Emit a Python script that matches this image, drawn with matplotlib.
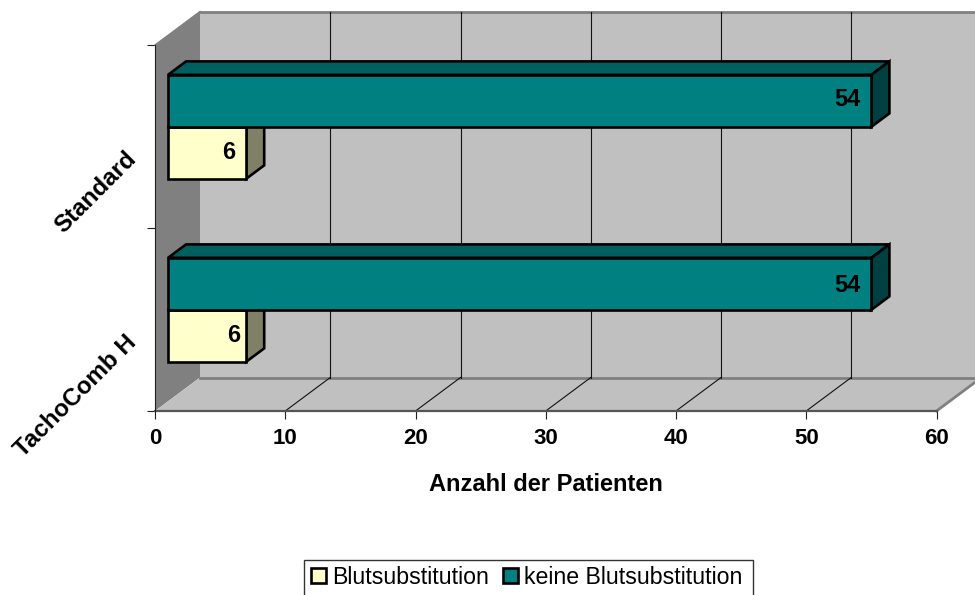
import matplotlib
matplotlib.use("Agg")
import matplotlib.pyplot as plt
from matplotlib.patches import Polygon, Patch, Rectangle

plt.rcParams['font.family'] = ['Liberation Sans', 'DejaVu Sans']

categories = ["TachoComb H", "Standard"]
blut = [6, 6]
keine = [54, 54]
series_names = ["Blutsubstitution", "keine Blutsubstitution"]
x_ticks = [0, 10, 20, 30, 40, 50, 60]

W, H = 975, 595
# front plane of the 3d box in pixels
LEFT, RIGHT, TOP, BOTTOM = 155, 936.5, 45, 411
# how far the back wall is shifted, in data units
DX = 45 / ((RIGHT - LEFT) / 60)
DY = 33.5 / ((BOTTOM - TOP) / 2)
BAR_H = 0.284
D0, D1 = 0.29, 0.69

fig = plt.figure(figsize=(W / 100, H / 100), dpi=100)
ax = fig.add_axes([LEFT / W, 1 - BOTTOM / H, (RIGHT - LEFT) / W, (BOTTOM - TOP) / H])
ax.set_xlim(0, 60)
ax.set_ylim(0, 2)
for s in ax.spines.values():
    s.set_visible(False)
ax.patch.set_visible(False)


def p(x, y, d):
    # oblique projection, d=0 is the front plane, d=1 the back wall
    return (x + d * DX, y + d * DY)


def poly(pts, fc, ec="none", lw=0, z=1):
    ax.add_patch(Polygon(pts, closed=True, fc=fc, ec=ec, lw=lw, zorder=z,
                         clip_on=False, joinstyle="miter"))


# walls and floor
poly([p(0, 0, 0), p(0, 2, 0), p(0, 2, 1), p(0, 0, 1)], "#808080", z=1)
poly([p(0, 0, 1), p(0, 2, 1), p(60, 2, 1), p(60, 0, 1)], "#C0C0C0", z=1)
poly([p(0, 0, 0), p(0, 0, 1), p(60, 0, 1), p(60, 0, 0)], "#C0C0C0", z=1)
ax.plot(*zip(p(0, 2, 1), p(60, 2, 1)), color="#808080", lw=2, zorder=2, clip_on=False)
ax.plot(*zip(p(0, 0, 1), p(60, 0, 1)), color="#808080", lw=2, zorder=2, clip_on=False)
ax.plot(*zip(p(60, 0, 0), p(60, 0, 1)), color="#808080", lw=2, zorder=2, clip_on=False)
ax.plot(*zip(p(0, 0, 0), p(60, 0, 0)), color="#555555", lw=1.6, zorder=3, clip_on=False)
ax.plot(*zip(p(0, 0, 0), p(0, 2, 0)), color="#202020", lw=0.8, zorder=3, clip_on=False)
ax.plot(*zip(p(0, 2, 0), p(0, 2, 1)), color="#808080", lw=1, zorder=2, clip_on=False)

# gridlines on back wall and floor
for t in x_ticks[1:-1]:
    ax.plot(*zip(p(t, 0, 1), p(t, 2, 1)), color="#111111", lw=0.8, zorder=2.5, clip_on=False)
    ax.plot(*zip(p(t, 0, 0), p(t, 0, 1)), color="#111111", lw=0.8, zorder=2.5, clip_on=False)


def bar3d(val, y0, y1, front, top, side, z):
    e = dict(ec="black", lw=1.9, z=z)
    poly([p(0, y1, D0), p(0, y1, D1), p(val, y1, D1), p(val, y1, D0)], top, **e)
    poly([p(val, y0, D0), p(val, y1, D0), p(val, y1, D1), p(val, y0, D1)], side, **e)
    poly([p(0, y0, D0), p(0, y1, D0), p(val, y1, D0), p(val, y0, D0)], front, **e)


for i in range(len(categories)):
    mid = i + 0.5
    bar3d(blut[i], mid - BAR_H, mid, "#FFFFCC", "#CCCCA3", "#808066", 5 + i)
    bar3d(keine[i], mid, mid + BAR_H, "#008080", "#006060", "#004040", 5.5 + i)

# value labels, the chart places these a bit unevenly
for i, dx in enumerate([-13, -18]):
    x, y = p(blut[i], i + 0.5 - BAR_H / 2, D0)
    ax.annotate(str(blut[i]), (x, y), xytext=(dx, 0),
                textcoords="offset pixels", ha="center", va="center",
                fontsize=17, fontweight="bold", zorder=9)
for i, dy in enumerate([-2, 1]):
    x, y = p(keine[i], i + 0.5 + BAR_H / 2, D0)
    ax.annotate(str(keine[i]), (x, y), xytext=(-24, dy),
                textcoords="offset pixels", ha="center", va="center",
                fontsize=17, fontweight="bold", zorder=9)

# axes ticks and labels
ax.set_xticks(x_ticks)
ax.set_xticklabels([str(t) for t in x_ticks], fontsize=16, fontweight="bold")
ax.tick_params(axis="x", length=6, width=0.8, pad=6.5, color="#202020")
ax.set_yticks([0, 1, 2])
ax.set_yticklabels([])
ax.tick_params(axis="y", length=6, width=0.8, color="#202020")
ax.set_xlabel("Anzahl der Patienten", fontsize=17, fontweight="bold", labelpad=17)

for i, cat in enumerate(categories):
    ax.annotate(cat, (0, i + 0.5), xytext=(-22, -19), textcoords="offset pixels",
                rotation=45, ha="right", va="center", rotation_mode="anchor",
                fontsize=17.4, fontweight="bold", annotation_clip=False)

# legend frame runs past the bottom edge of the picture
fig.add_artist(Rectangle((304 / W, 1 - 600 / H), 449 / W, 40 / H, transform=fig.transFigure,
                         fc="white", ec="#333333", lw=1, zorder=0))
handles = [Patch(fc="#FFFFCC", ec="black", lw=1.9), Patch(fc="#008080", ec="black", lw=1.9)]
leg = fig.legend(handles, series_names, loc="center left", ncol=2,
                 bbox_to_anchor=(311 / W, 1 - 577 / H), borderaxespad=0, borderpad=0,
                 fontsize=16.7, frameon=False, handlelength=0.65, handleheight=0.65,
                 handletextpad=0.25, columnspacing=0.6)

fig.savefig("out.png", dpi=100)
